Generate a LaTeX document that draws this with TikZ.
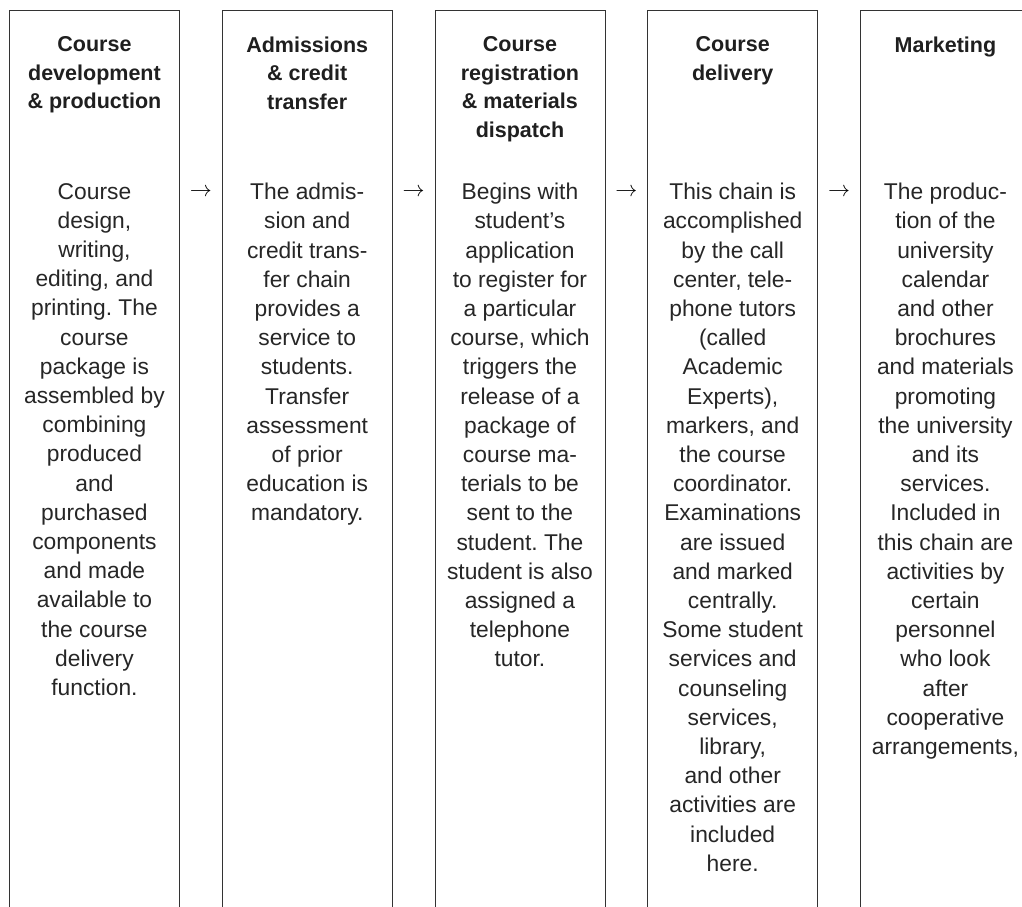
\RequirePackage{fix-cm}
\documentclass[tikz,border=0pt]{standalone}
\usepackage{fontspec}
\setmainfont{Liberation Sans}
\usetikzlibrary{calc}
\frenchspacing
\begin{document}
\begin{tikzpicture}[x=1pt,y=1pt,
  colbox/.style={draw=black!80, line width=0.9pt, minimum width=170pt, minimum height=930pt, anchor=north west, inner sep=0pt},
  head/.style={anchor=north, inner sep=0pt, align=center, text=black!88, font=\bfseries\fontsize{21.5}{28.6}\selectfont},
  body/.style={anchor=north, inner sep=0pt, align=center, text=black!85, font=\fontsize{22.8}{29.2}\selectfont},
  arr/.style={inner sep=0pt, text=black, font=\fontsize{22}{24}\selectfont}]
\useasboundingbox (0,0) rectangle (1022,-906);
\clip (0,0) rectangle (1022,-906);
% columns
\node[colbox] (b1) at (9,-10) {};
\node[colbox] (b2) at (221.75,-10) {};
\node[colbox] (b3) at (434.5,-10) {};
\node[colbox] (b4) at (647.25,-10) {};
\node[colbox] (b5) at (860,-10) {};
% headings
\node[head] (h1) at ($(b1.north)+(0,-26.5)$) {Course\\development\\\& production};
\node[head] (h2) at ($(b2.north)+(0,-26.5)$) {Admissions\\\& credit\\transfer};
\node[head] (h3) at ($(b3.north)+(0,-26.5)$) {Course\\registration\\\& materials\\dispatch};
\node[head] (h4) at ($(b4.north)+(0,-26.5)$) {Course\\delivery};
\node[head] (h5) at ($(b5.north)+(0,-26.5)$) {Marketing};
% bodies
\node[body] (t1) at ($(b1.north)+(0,-173)$) {Course\\design,\\writing,\\editing, and\\printing. The\\course\\package is\\assembled by\\combining\\produced\\and\\purchased\\components\\and made\\available to\\the course\\delivery\\function.};
\node[body] (t2) at ($(b2.north)+(0,-173)$) {The admis-\\sion and\\credit trans-\\fer chain\\provides a\\service to\\students.\\Transfer\\assessment\\of prior\\education is\\mandatory.};
\node[body] (t3) at ($(b3.north)+(0,-173)$) {Begins with\\student’s\\application\\to register for\\a particular\\course, which\\triggers the\\release of a\\package of\\course ma-\\terials to be\\sent to the\\student. The\\student is also\\assigned a\\telephone\\tutor.};
\node[body] (t4) at ($(b4.north)+(0,-173)$) {This chain is\\accomplished\\by the call\\center, tele-\\phone tutors\\(called\\Academic\\Experts),\\markers, and\\the course\\coordinator.\\Examinations\\are issued\\and marked\\centrally.\\Some student\\services and\\counseling\\services,\\library,\\and other\\activities are\\included\\here.};
\node[body] (t5) at ($(b5.north)+(0,-173)$) {The produc-\\tion of the\\university\\calendar\\and other\\brochures\\and materials\\promoting\\the university\\and its\\services.\\Included in\\this chain are\\activities by\\certain\\personnel\\who look\\after\\cooperative\\arrangements,};
% arrows between columns
\node[arr] (a1) at ($(b1.north east)!0.5!(b2.north west)+(0,-182)$) {$\rightarrow$};
\node[arr] (a2) at ($(b2.north east)!0.5!(b3.north west)+(0,-182)$) {$\rightarrow$};
\node[arr] (a3) at ($(b3.north east)!0.5!(b4.north west)+(0,-182)$) {$\rightarrow$};
\node[arr] (a4) at ($(b4.north east)!0.5!(b5.north west)+(0,-182)$) {$\rightarrow$};
\end{tikzpicture}
\end{document}
